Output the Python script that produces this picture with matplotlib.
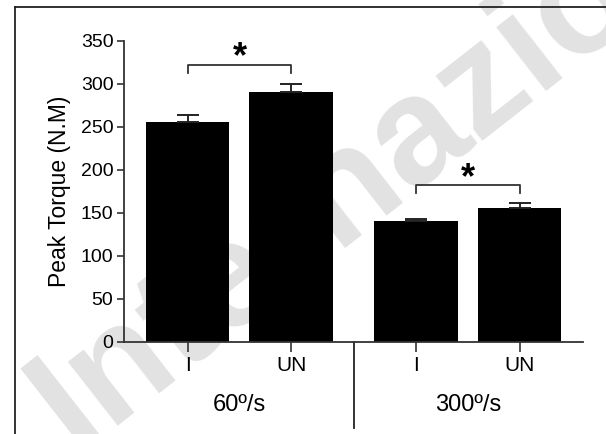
import numpy as np
import matplotlib.pyplot as plt
from matplotlib.lines import Line2D
import matplotlib.transforms as mtrans

plt.rcParams['font.family'] = ['Liberation Sans Narrow', 'Liberation Sans', 'DejaVu Sans']

# data
groups = ['60º/s', '300º/s']
conds = ['I', 'UN', 'I', 'UN']
torque = [256, 290, 140, 155]
err = [7.5, 10, 3, 6]
# significance brackets: (bar a, bar b, bracket height, leg drop)
sig = [(0, 1, 322, 10), (2, 3, 182, 9)]

pos = np.array([0, 1, 2.208, 3.208])

fig = plt.figure(figsize=(6.06, 4.34), dpi=100)
ax = fig.add_axes([0.2051, 0.2127, 0.962 - 0.2051, 0.9062 - 0.2127])
ax.patch.set_alpha(0)

# watermark behind the axes
fig.text(0.752, 0.76, 'Internazionale', fontsize=110, color='#e2e2e2',
         family='Liberation Sans', fontweight='bold',
         rotation=38, ha='center', va='center', rotation_mode='anchor', zorder=-1)

ax.bar(pos, torque, width=0.807, color='black', zorder=2)
ax.errorbar(pos, torque, yerr=[np.zeros(len(err)), err], fmt='none',
            ecolor='#222222', elinewidth=1.4, capsize=7.8, capthick=1.4, zorder=3)

for a, b, h, d in sig:
    ax.plot([pos[a], pos[a], pos[b], pos[b]], [h - d, h, h, h - d],
            color='#333333', lw=1.3, clip_on=False)
    ax.annotate('*', xy=((pos[a] + pos[b]) / 2, h), xytext=(0, 5),
                textcoords='offset points', ha='center', va='center',
                fontsize=26, fontweight='bold', family='Liberation Sans')

ax.set_xlim(-0.613, 3.82)
ax.set_ylim(0, 350)
ax.set_yticks(np.arange(0, 351, 50))
ax.set_xticks(pos)
ax.set_xticklabels(conds, fontsize=15)
ax.tick_params(axis='y', labelsize=14, length=4.8, width=1.2, color='#333333', pad=3)
ax.tick_params(axis='x', length=7, width=1.2, color='#333333', pad=3.5)
for s in ['top', 'right']:
    ax.spines[s].set_visible(False)
for s in ['left', 'bottom']:
    ax.spines[s].set_linewidth(1.3)
    ax.spines[s].set_color('#333333')
ax.set_ylabel('Peak Torque (N.M)', fontsize=16.5, labelpad=7)

# group labels and separator under the axis
tr = mtrans.blended_transform_factory(ax.transData, ax.transAxes)
for i, g in enumerate(groups):
    mid = (pos[2 * i] + pos[2 * i + 1]) / 2
    ax.text(mid, -0.21, g, transform=tr, ha='center', va='center', fontsize=17)
sep = (pos[1] + pos[2]) / 2
ax.plot([sep, sep], [0, -0.286], transform=tr, color='#222222', lw=1.3, clip_on=False)

# outer frame
fig.add_artist(Line2D([15 / 606, 15 / 606], [0, 1 - 7 / 434], color='#222222', lw=1.3))
fig.add_artist(Line2D([15 / 606, 1], [1 - 7 / 434, 1 - 7 / 434], color='#222222', lw=1.3))

fig.savefig('out.png', dpi=100)
